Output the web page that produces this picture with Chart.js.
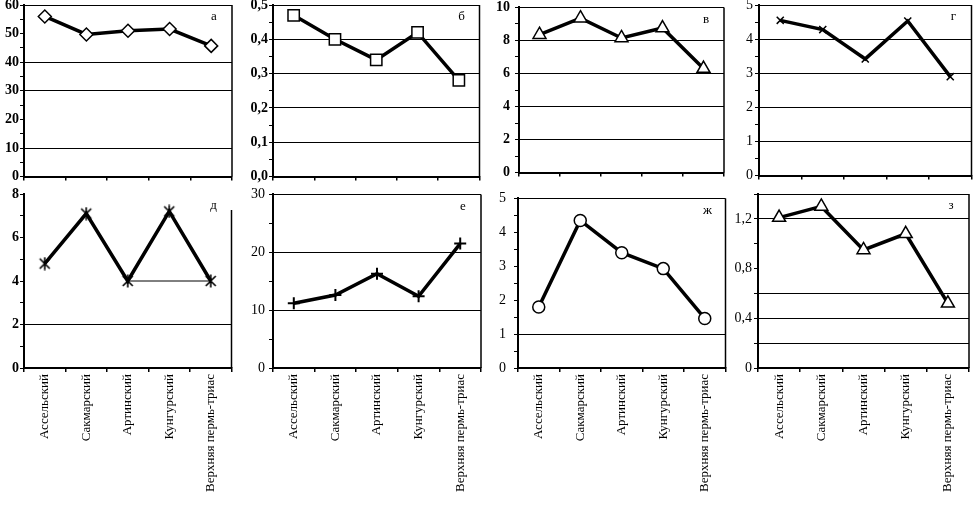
<!DOCTYPE html>
<html>
<head>
<meta charset="utf-8">
<script src="https://cdn.jsdelivr.net/npm/chart.js@4.4.0/dist/chart.umd.min.js"></script>
<style>
html, body { margin: 0; padding: 0; background: #fff; }
body { width: 978px; height: 517px; position: relative; overflow: hidden; }
.box { position: absolute; }
</style>
</head>
<body>
<div class="box" id="pa"><canvas id="ca"></canvas></div>
<div class="box" id="pb"><canvas id="cb"></canvas></div>
<div class="box" id="pc"><canvas id="cc"></canvas></div>
<div class="box" id="pd"><canvas id="cd"></canvas></div>
<div class="box" id="pe"><canvas id="ce"></canvas></div>
<div class="box" id="pf"><canvas id="cf"></canvas></div>
<div class="box" id="pg"><canvas id="cg"></canvas></div>
<div class="box" id="ph"><canvas id="ch"></canvas></div>
<script>
// categories (same for every panel)
const categories = ['Ассельский', 'Сакмарский', 'Артинский', 'Кунгурский', 'Верхняя пермь-триас'];

// series values, one per panel
const valuesA = [56, 49.7, 51, 51.6, 45.7];
const valuesB = [0.47, 0.40, 0.34, 0.42, 0.28];
const valuesC = [8.35, 9.35, 8.15, 8.75, 6.3];
const valuesD = [4.55, 4.28, 3.42, 4.53, 2.9];
const valuesE = [4.8, 7.1, 4.0, 7.2, 4.0];
const valuesF = [11.2, 12.6, 16.3, 12.4, 21.5];
const valuesG = [1.8, 4.35, 3.4, 2.93, 1.46];
const valuesH = [1.21, 1.3, 0.95, 1.08, 0.52];
// thin level line in panel д (Артинский .. Верхняя)
const levelE = [null, null, 4, null, 4];

// labelled y ticks
const yLabelsA = [0, 10, 20, 30, 40, 50, 60];
const yLabelsB = [0, 0.1, 0.2, 0.3, 0.4, 0.5];
const yLabelsC = [0, 2, 4, 6, 8, 10];
const yLabelsD = [0, 1, 2, 3, 4, 5];
const yLabelsE = [0, 2, 4, 6, 8];
const yLabelsF = [0, 10, 20, 30];
const yLabelsG = [0, 1, 2, 3, 4, 5];
const yLabelsH = [0, 0.4, 0.8, 1.2];

// horizontal lines that show in each panel
const gridA = [10, 30, 40, 60];
const gridB = [0.1, 0.2, 0.3, 0.4, 0.5];
const gridC = [2, 4, 6, 8, 10];
const gridD = [1, 2, 3, 4, 5];
const gridE = [2];
const gridF = [10, 20, 30];
const gridG = [1, 5];
const gridH = [0.2, 0.4, 0.6, 1.2, 1.4];

const same = (a, b) => Math.round(a * 1000) === Math.round(b * 1000);
const comma = v => v.toFixed(1).replace('.', ',');

// asterisk marker: x with a vertical bar
const asterisk = document.createElement('canvas');
asterisk.width = 14; asterisk.height = 14;
(function () {
    const g = asterisk.getContext('2d');
    g.strokeStyle = '#000';
    g.lineWidth = 1.6;
    g.beginPath();
    g.moveTo(2, 2); g.lineTo(12, 12);
    g.moveTo(12, 2); g.lineTo(2, 12);
    g.moveTo(7, 0.5); g.lineTo(7, 13.5);
    g.stroke();
})();

const framePlugin = {
    id: 'frame',
    afterDraw(chart, args, opts) {
        const { ctx, chartArea: a } = chart;
        ctx.save();
        ctx.strokeStyle = '#000';
        ctx.lineWidth = 1.5;
        ctx.beginPath();
        ctx.moveTo(a.right, opts.rightFrom ? a.top + opts.rightFrom : a.top);
        ctx.lineTo(a.right, a.bottom);
        ctx.stroke();
        ctx.fillStyle = '#000';
        ctx.font = '13px "Liberation Serif"';
        ctx.textAlign = 'center';
        ctx.textBaseline = 'middle';
        ctx.fillText(opts.letter, a.right - 18, a.top + 12);
        ctx.restore();
    }
};

function makePanel(p) {
    const box = document.getElementById(p.box);
    box.style.left = p.left + 'px';
    box.style.top = p.top + 'px';
    box.style.width = p.width + 'px';
    box.style.height = p.height + 'px';

    const datasets = [{
        data: p.values,
        borderColor: '#000',
        borderWidth: 3.5,
        tension: 0,
        pointStyle: p.marker,
        pointRadius: p.radius,
        pointBackgroundColor: '#fff',
        pointBorderColor: '#000',
        pointBorderWidth: p.markerWidth || 1.5,
        clip: false
    }];
    if (p.extra) {
        datasets.push({
            data: p.extra, borderColor: '#000', borderWidth: 1,
            pointRadius: 0, spanGaps: true, order: 2
        });
    }

    new Chart(document.getElementById(p.canvas), {
        type: 'line',
        data: { labels: categories, datasets: datasets },
        options: {
            responsive: true,
            maintainAspectRatio: false,
            animation: false,
            layout: { padding: { top: p.padTop, right: 2, left: 0, bottom: 0 } },
            plugins: {
                legend: { display: false },
                tooltip: { enabled: false },
                frame: { letter: p.letter, rightFrom: p.rightFrom }
            },
            scales: {
                x: {
                    offset: true,
                    grid: { offset: true, color: 'rgba(0,0,0,0)', tickColor: '#000', tickLength: 4, lineWidth: 1.5 },
                    border: { color: '#000', width: 2 },
                    ticks: {
                        display: p.showLabels,
                        autoSkip: false,
                        maxRotation: 90,
                        minRotation: 90,
                        padding: 2,
                        color: '#000',
                        font: { family: 'Liberation Serif', size: 13 }
                    },
                    afterFit(s) { s.height = p.xh; }
                },
                y: {
                    min: 0,
                    max: p.max,
                    grid: {
                        color: c => (c.tick && p.grid.some(g => same(g, c.tick.value))) ? '#000' : 'rgba(0,0,0,0)',
                        tickColor: '#000',
                        tickLength: 4,
                        lineWidth: 1
                    },
                    border: { color: '#000', width: 2 },
                    ticks: {
                        stepSize: p.step,
                        autoSkip: false,
                        padding: p.labelPad,
                        color: '#000',
                        font: { family: 'Liberation Serif', size: 14, weight: p.bold ? 'bold' : 'normal' },
                        callback: v => p.labels.some(l => same(l, v)) ? p.fmt(v) : ''
                    },
                    afterFit(s) { s.width = p.yw; }
                }
            }
        },
        plugins: [framePlugin]
    });
}

const plain = v => String(Math.round(v));
const TOP = { top: -6, height: 192, padTop: 11, xh: 6, showLabels: false };
const BOT = { top: 182, height: 335, padTop: 12, xh: 149, showLabels: true };

makePanel(Object.assign({}, TOP, { box: 'pa', canvas: 'ca', left: 0, width: 240, yw: 24, labelPad: 1,
    values: valuesA, max: 60, step: 5, labels: yLabelsA, grid: gridA, fmt: plain, bold: true,
    marker: 'rectRot', radius: 6.5, letter: 'а' }));
makePanel(Object.assign({}, TOP, { box: 'pb', canvas: 'cb', left: 240, width: 249, yw: 33, labelPad: 1,
    values: valuesB, max: 0.5, step: 0.05, labels: yLabelsB, grid: gridB, fmt: comma, bold: true,
    marker: 'rect', radius: 8, letter: 'б' }));
makePanel(Object.assign({}, TOP, { box: 'pc', canvas: 'cc', left: 490, width: 243, yw: 29, labelPad: 5,
    values: valuesC, max: 10, step: 1, labels: yLabelsC, grid: gridC, fmt: plain, bold: true,
    marker: 'triangle', radius: 7.5, letter: 'в' }));
makePanel(Object.assign({}, TOP, { box: 'pd', canvas: 'cd', left: 735, width: 243, yw: 24, labelPad: 2,
    values: valuesD, max: 5, step: 0.5, labels: yLabelsD, grid: gridD, fmt: plain, bold: false,
    marker: 'crossRot', radius: 5, letter: 'г' }));

makePanel(Object.assign({}, BOT, { box: 'pe', canvas: 'ce', left: 0, width: 240, yw: 24, labelPad: 1,
    values: valuesE, extra: levelE, max: 8, step: 1, labels: yLabelsE, grid: gridE, fmt: plain, bold: true,
    marker: asterisk, radius: 7, rightFrom: 16, letter: 'д' }));
makePanel(Object.assign({}, BOT, { box: 'pf', canvas: 'cf', left: 240, width: 249, yw: 33, labelPad: 4,
    values: valuesF, max: 30, step: 5, labels: yLabelsF, grid: gridF, fmt: plain, bold: false,
    marker: 'cross', radius: 6, markerWidth: 2, letter: 'е' }));
makePanel(Object.assign({}, BOT, { box: 'pg', canvas: 'cg', left: 490, width: 243, yw: 28, labelPad: 8,
    values: valuesG, max: 5, step: 0.5, labels: yLabelsG, grid: gridG, fmt: plain, bold: false,
    marker: 'circle', radius: 6, letter: 'ж' }));
makePanel(Object.assign({}, BOT, { box: 'ph', canvas: 'ch', left: 735, width: 243, yw: 23, labelPad: 2,
    values: valuesH, max: 1.4, step: 0.2, labels: yLabelsH, grid: gridH,
    fmt: v => v === 0 ? '0' : comma(v), bold: false,
    marker: 'triangle', radius: 7.5, letter: 'з' }));
</script>
</body>
</html>
